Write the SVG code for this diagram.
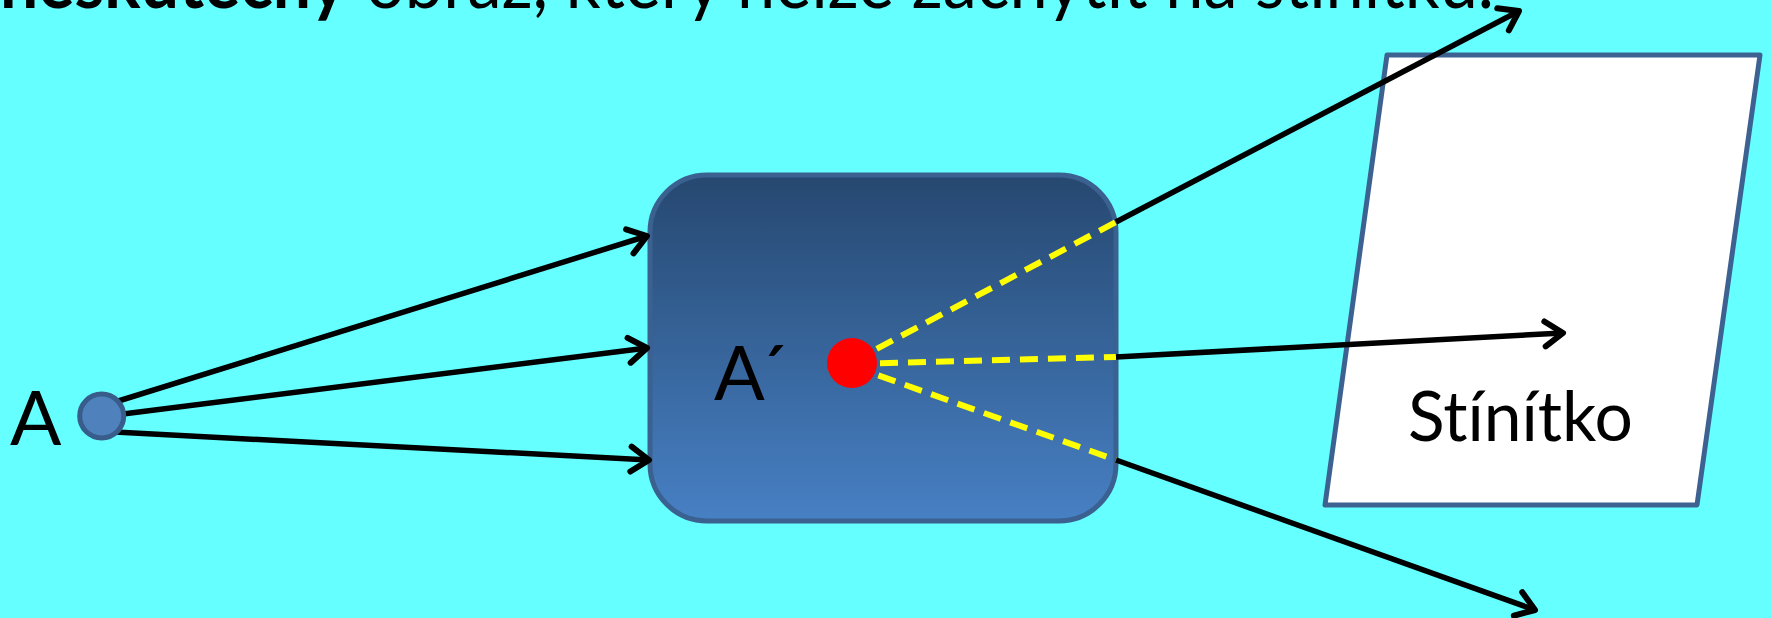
<svg xmlns="http://www.w3.org/2000/svg" width="1771" height="618" viewBox="0 0 1771 618">
  <defs>
    <linearGradient id="boxGrad" x1="0" y1="0" x2="0" y2="1">
      <stop offset="0" stop-color="#264870"/>
      <stop offset="1" stop-color="#4780c4"/>
    </linearGradient>
    <marker id="arrow" markerUnits="userSpaceOnUse" viewBox="-26 -18 32 36" refX="0" refY="0" markerWidth="32" markerHeight="36" orient="auto" overflow="visible">
      <path d="M-18,-12.5 L0,0 L-18,12.5" fill="none" stroke="#000" stroke-width="6" stroke-linecap="round" stroke-linejoin="round"/>
    </marker>
  </defs>
  <style>
    .txt { font-family: Lato, "Open Sans", "Liberation Sans", sans-serif; fill: #000; font-variant-ligatures: none; font-feature-settings: "liga" 0, "clig" 0, "dlig" 0; }
    .ray { stroke: #000; stroke-width: 5.5; fill: none; }
    .arr { marker-end: url(#arrow); }
    .virt { stroke: #ffff00; stroke-width: 6; stroke-dasharray: 18 10; fill: none; }
  </style>
  <rect x="0" y="0" width="1771" height="618" fill="#66ffff"/>

  <g id="title">
    <text class="txt" x="0" y="8" font-size="73" font-weight="bold" textLength="346" lengthAdjust="spacingAndGlyphs">neskutečný</text>
    <text class="txt" x="366" y="8" font-size="73" textLength="1128" lengthAdjust="spacingAndGlyphs">obraz, který nelze zachytit na stínítku.</text>
  </g>

  <g id="system">
    <rect x="650" y="175" width="466" height="346" rx="57" ry="57" fill="url(#boxGrad)" stroke="#3a6190" stroke-width="5"/>
  </g>

  <g id="screen">
    <polygon points="1387,55 1760,55 1697,505 1325,505" fill="#ffffff" stroke="#3d6292" stroke-width="5" stroke-linejoin="round"/>
    <text class="txt" x="1408" y="441" font-size="70" textLength="225" lengthAdjust="spacingAndGlyphs">Stínítko</text>
  </g>

  <g id="connectors">
    <line class="ray arr" x1="112" y1="403" x2="647" y2="236"/>
    <line class="ray arr" x1="115" y1="415" x2="647" y2="348"/>
    <line class="ray arr" x1="115" y1="432" x2="649" y2="460"/>
    <line class="virt" x1="852" y1="362" x2="1116" y2="222"/>
    <line class="virt" x1="852" y1="364" x2="1116" y2="357"/>
    <line class="virt" x1="852" y1="366" x2="1116" y2="460"/>
    <line class="ray arr" x1="1116" y1="222" x2="1519" y2="11"/>
    <line class="ray arr" x1="1116" y1="357" x2="1563" y2="333"/>
    <line class="ray arr" x1="1116" y1="460" x2="1535" y2="610"/>
  </g>

  <g id="image-point">
    <circle cx="852" cy="363" r="25" fill="#ff0000"/>
    <text class="txt" x="714" y="400" font-size="75" letter-spacing="-7">A´</text>
  </g>

  <g id="point-a">
    <circle cx="101.7" cy="416" r="22" fill="#4f81bd" stroke="#385d8a" stroke-width="5"/>
    <text class="txt" x="10" y="445" font-size="76">A</text>
  </g>
</svg>
